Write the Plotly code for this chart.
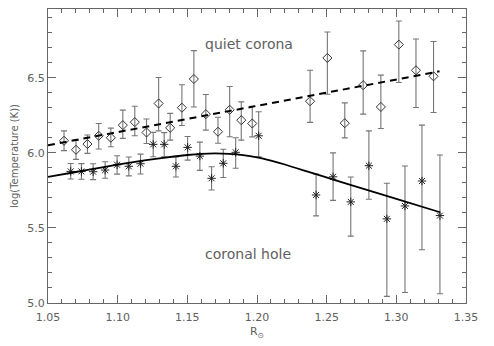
import plotly.graph_objects as go

# Quiet corona (diamonds)
qc_x = [1.0615, 1.0701, 1.0783, 1.0864, 1.0951, 1.1037, 1.1123, 1.1207, 1.1294, 1.1377,
        1.1461, 1.1547, 1.1633, 1.1720, 1.1804, 1.1887, 1.1966, 1.2381, 1.2505, 1.2630,
        1.2762, 1.2889, 1.3018, 1.3141, 1.3267]
qc_y = [6.080, 6.020, 6.058, 6.113, 6.100, 6.184, 6.204, 6.135, 6.328, 6.166,
        6.300, 6.491, 6.257, 6.140, 6.286, 6.217, 6.195, 6.343, 6.631, 6.197,
        6.450, 6.305, 6.720, 6.549, 6.509]
qc_up = [0.066, 0.064, 0.060, 0.082, 0.064, 0.100, 0.106, 0.090, 0.173, 0.096,
         0.153, 0.189, 0.131, 0.096, 0.155, 0.122, 0.115, 0.206, 0.173, 0.135,
         0.228, 0.212, 0.157, 0.208, 0.232]
qc_dn = [0.066, 0.064, 0.062, 0.088, 0.060, 0.088, 0.091, 0.073, 0.182, 0.082,
         0.118, 0.186, 0.106, 0.077, 0.179, 0.133, 0.089, 0.141, 0.241, 0.098,
         0.193, 0.143, 0.252, 0.248, 0.241]

# Coronal hole (asterisks)
ch_x = [1.0663, 1.0740, 1.0824, 1.0910, 1.0996, 1.1080, 1.1164, 1.1255, 1.1334, 1.1418,
        1.1502, 1.1590, 1.1674, 1.1758, 1.1847, 1.2012, 1.2424, 1.2546, 1.2673, 1.2803,
        1.2932, 1.3062, 1.3184, 1.3313]
ch_y = [5.876, 5.876, 5.874, 5.885, 5.920, 5.910, 5.927, 6.056, 6.056, 5.910,
        6.036, 5.978, 5.830, 5.930, 6.003, 6.113, 5.719, 5.840, 5.673, 5.914,
        5.560, 5.646, 5.812, 5.582]
ch_up = [0.053, 0.052, 0.053, 0.055, 0.060, 0.062, 0.064, 0.080, 0.078, 0.062,
         0.072, 0.093, 0.077, 0.093, 0.097, 0.160, 0.139, 0.159, 0.166, 0.232,
         0.237, 0.266, 0.372, 0.403]
ch_dn = [0.051, 0.052, 0.053, 0.055, 0.062, 0.064, 0.068, 0.082, 0.082, 0.071,
         0.085, 0.095, 0.078, 0.095, 0.106, 0.140, 0.139, 0.157, 0.228, 0.223,
         0.516, 0.576, 0.458, 0.520]

# Model curves
qc_fit_x = [1.05, 1.10, 1.15, 1.20, 1.25, 1.30, 1.331]
qc_fit_y = [6.050, 6.137, 6.225, 6.312, 6.400, 6.487, 6.542]
ch_fit_x = [1.05, 1.07, 1.09, 1.11, 1.13, 1.15, 1.16, 1.17, 1.18, 1.19, 1.20, 1.21,
            1.22, 1.24, 1.26, 1.28, 1.30, 1.3314]
ch_fit_y = [5.840, 5.872, 5.905, 5.936, 5.963, 5.985, 5.993, 5.996, 5.993, 5.985, 5.970, 5.948,
            5.922, 5.864, 5.806, 5.749, 5.693, 5.604]

x_ticks = [1.05, 1.10, 1.15, 1.20, 1.25, 1.30, 1.35]
y_ticks = [5.0, 5.5, 6.0, 6.5]

AX = '#666666'
TXT = '#606060'
ERR = '#767676'
FONT = 'DejaVu Sans'

fig = go.Figure()
fig.add_trace(go.Scatter(
    x=qc_x, y=qc_y, mode='markers',
    marker=dict(symbol='diamond-open', size=7, color='#333333', line=dict(width=1)),
    error_y=dict(type='data', symmetric=False, array=qc_up, arrayminus=qc_dn,
                 color=ERR, thickness=1.1, width=3),
    showlegend=False))
fig.add_trace(go.Scatter(
    x=ch_x, y=ch_y, mode='markers',
    marker=dict(symbol='asterisk-open', size=7, color='#222222', line=dict(width=1, color='#222222')),
    error_y=dict(type='data', symmetric=False, array=ch_up, arrayminus=ch_dn,
                 color=ERR, thickness=1.1, width=3),
    showlegend=False))
fig.add_trace(go.Scatter(
    x=qc_fit_x, y=qc_fit_y, mode='lines',
    line=dict(color='black', width=2, dash='7px,5px'), showlegend=False))
fig.add_trace(go.Scatter(
    x=ch_fit_x, y=ch_fit_y, mode='lines', line_shape='spline',
    line=dict(color='black', width=1.8), showlegend=False))

fig.add_annotation(x=1.1943, y=6.726, text='quiet corona', showarrow=False,
                   font=dict(family=FONT, size=14, color=TXT))
fig.add_annotation(x=1.1938, y=5.325, text='coronal hole', showarrow=False,
                   font=dict(family=FONT, size=14, color=TXT))

axis_common = dict(showgrid=False, zeroline=False, showline=True, linecolor=AX, linewidth=1,
                   mirror='ticks', ticks='inside', ticklen=8, tickcolor=AX, tickwidth=1,
                   tickfont=dict(family=FONT, size=11, color=TXT))

fig.update_xaxes(range=[1.05, 1.35], tickvals=x_ticks,
                 ticktext=[f'{v:.2f}' for v in x_ticks], ticklabelstandoff=4,
                 minor=dict(dtick=0.01, tick0=1.05, ticklen=4, ticks='inside', tickcolor=AX),
                 title=dict(text='R<sub>⊙</sub>', font=dict(family=FONT, size=11, color=TXT),
                            standoff=4),
                 **axis_common)
fig.update_yaxes(range=[5.0, 6.957], tickvals=y_ticks,
                 ticktext=[f'{v:.1f}' for v in y_ticks],
                 minor=dict(dtick=0.1, tick0=5.0, ticklen=4, ticks='inside', tickcolor=AX),
                 title=dict(text='log(Temperature (K))', font=dict(family=FONT, size=10, color=TXT),
                            standoff=6),
                 **axis_common)

fig.update_layout(width=494, height=346, margin=dict(l=48, r=28, t=9, b=43),
                  plot_bgcolor='white', paper_bgcolor='white')

fig.write_html('out.html')
